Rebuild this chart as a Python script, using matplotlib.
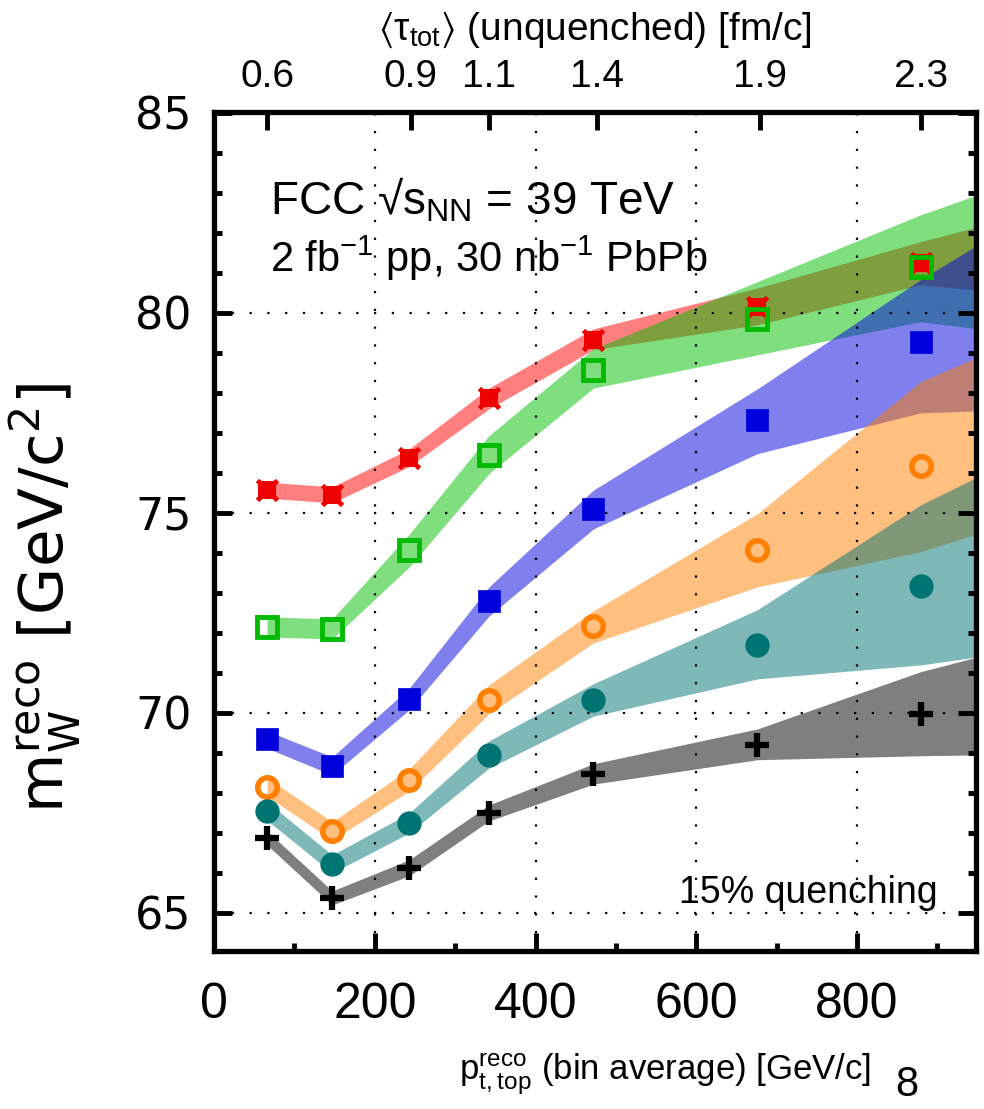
import matplotlib
matplotlib.use('Agg')
import matplotlib.pyplot as plt

plt.rcParams['mathtext.default'] = 'regular'

# bin averages of p_t,top^reco [GeV/c]
pt_x = [66, 147, 243, 342, 472, 676, 879]
# band edges continue to the right edge of the frame
band_x = [66, 147, 243, 342, 472, 676, 879, 950]

# reconstructed W mass for each scenario [GeV/c^2]
red_y = [75.57, 75.45, 76.38, 77.88, 79.33, 80.15, 81.25]
red_lo = [75.37, 75.25, 76.16, 77.60, 79.08, 79.70, 80.70, 80.57]
red_hi = [75.77, 75.65, 76.60, 78.12, 79.60, 80.62, 81.78, 82.15]

green_y = [72.15, 72.10, 74.07, 76.45, 78.57, 79.85, 81.15]
green_lo = [71.90, 71.85, 73.65, 75.98, 78.12, 78.95, 79.78, 79.60]
green_hi = [72.40, 72.35, 74.47, 76.93, 79.10, 80.78, 82.45, 82.95]

blue_y = [69.35, 68.68, 70.35, 72.80, 75.10, 77.33, 79.28]
blue_lo = [69.12, 68.45, 70.08, 72.42, 74.60, 76.48, 77.50, 77.55]
blue_hi = [69.55, 68.90, 70.62, 73.15, 75.57, 78.10, 80.83, 81.70]

orange_y = [68.15, 67.05, 68.33, 70.33, 72.18, 74.08, 76.18]
orange_lo = [67.92, 66.82, 68.05, 69.98, 71.75, 73.15, 74.03, 74.48]
orange_hi = [68.38, 67.28, 68.60, 70.70, 72.55, 74.98, 78.28, 78.90]

teal_y = [67.55, 66.23, 67.25, 68.95, 70.33, 71.70, 73.18]
teal_lo = [67.32, 66.00, 67.00, 68.62, 69.92, 70.85, 71.20, 71.40]
teal_hi = [67.78, 66.45, 67.50, 69.30, 70.73, 72.58, 75.20, 75.90]

black_y = [66.88, 65.38, 66.13, 67.50, 68.48, 69.20, 69.98]
black_lo = [66.70, 65.20, 65.93, 67.30, 68.22, 68.83, 68.93, 68.95]
black_hi = [67.05, 65.55, 66.33, 67.70, 68.73, 69.60, 71.03, 71.40]

# top axis: <tau_tot> of the unquenched sample
tau_pos = [66, 245, 342, 476, 679, 880]
tau_labels = ['0.6', '0.9', '1.1', '1.4', '1.9', '2.3']

sans = 'Liberation Sans'

fig = plt.figure(figsize=(9.84, 11.09), dpi=100)
ax = fig.add_axes([0.2175, 0.1425, 0.7744, 0.7565])

# bands and markers, drawn one scenario after the other
ax.fill_between(band_x, red_lo, red_hi, color='red', alpha=0.5, lw=0)
ax.plot(pt_x, red_y, ls='none', marker='s', ms=13, color='#ee0000', mew=0)
ax.plot(pt_x, red_y, ls='none', marker='x', ms=15, color='#ee0000', mew=3.5)

ax.fill_between(band_x, green_lo, green_hi, color='#00c000', alpha=0.5, lw=0)
ax.plot(pt_x, green_y, ls='none', marker='s', ms=14, mfc='none',
        mec='#00bb00', mew=3.5)

ax.fill_between(band_x, blue_lo, blue_hi, color='#0000dd', alpha=0.5, lw=0)
ax.plot(pt_x, blue_y, ls='none', marker='s', ms=16.5, color='#0000dd', mew=0.5)

ax.fill_between(band_x, orange_lo, orange_hi, color='#ff8000', alpha=0.5, lw=0)
ax.plot(pt_x, orange_y, ls='none', marker='o', ms=14, mfc='none',
        mec='#ff8000', mew=4)

ax.fill_between(band_x, teal_lo, teal_hi, color='#007373', alpha=0.5, lw=0)
ax.plot(pt_x, teal_y, ls='none', marker='o', ms=17.5, color='#007373', mew=0)

ax.fill_between(band_x, black_lo, black_hi, color='black', alpha=0.5, lw=0)
ax.plot(pt_x, black_y, ls='none', marker='+', ms=17, color='black', mew=4.5)

ax.set_xlim(0, 948)
ax.set_ylim(64.05, 85.02)

ax.set_xticks([0, 200, 400, 600, 800])
ax.set_xticks([100, 300, 500, 700, 900], minor=True)
ax.set_yticks([65, 70, 75, 80, 85])
ax.set_yticks(range(65, 85), minor=True)
ax.grid(True, which='major', color='black', lw=1.6, ls=(0, (1, 7)))

ax.tick_params(which='both', direction='in', width=3.5, right=True)
ax.tick_params(which='major', length=13)
ax.tick_params(which='minor', length=6)
ax.tick_params(axis='y', which='major', labelsize=32, pad=16)
ax.tick_params(axis='x', which='major', labelsize=36, pad=22)
for lab in ax.get_yticklabels():
    lab.set_family('DejaVu Sans')
for lab in ax.get_xticklabels():
    lab.set_family(sans)
for s in ax.spines.values():
    s.set_linewidth(3.8)

ax.set_xlabel('$p^{reco}_{t,top}$ (bin average) [GeV/c]', fontsize=25,
              family=sans)
ax.xaxis.set_label_coords(0.592, -0.12)
ax.set_ylabel('$m^{reco}_{W}$ [GeV/c$^{2}$]', fontsize=44,
              family='DejaVu Sans')
ax.yaxis.set_label_coords(-0.172, 0.42)

top = ax.twiny()
top.set_xlim(ax.get_xlim())
top.set_xticks(tau_pos)
top.set_xticklabels(tau_labels, family=sans)
top.xaxis.set_minor_locator(matplotlib.ticker.NullLocator())
top.tick_params(direction='in', length=13, width=3.5, labelsize=28, pad=12)
top.set_xlabel(r'$\langle\tau_{tot}\rangle$ (unquenched) [fm/c]', fontsize=28,
               family=sans, labelpad=14)

ax.text(0.073, 0.895, 'FCC √s$_{NN}$ = 39 TeV', transform=ax.transAxes,
        fontsize=33, family=sans, va='center')
ax.text(0.073, 0.826, '2 fb$^{-1}$ pp, 30 nb$^{-1}$ PbPb', transform=ax.transAxes,
        fontsize=30, family=sans, va='center')
ax.text(0.949, 0.069, '15% quenching', transform=ax.transAxes, fontsize=27,
        family=sans, ha='right', va='center')

fig.text(0.922, 0.022, '8', fontsize=30, family=sans, ha='center', va='center')

fig.savefig('out.png', dpi=100)
